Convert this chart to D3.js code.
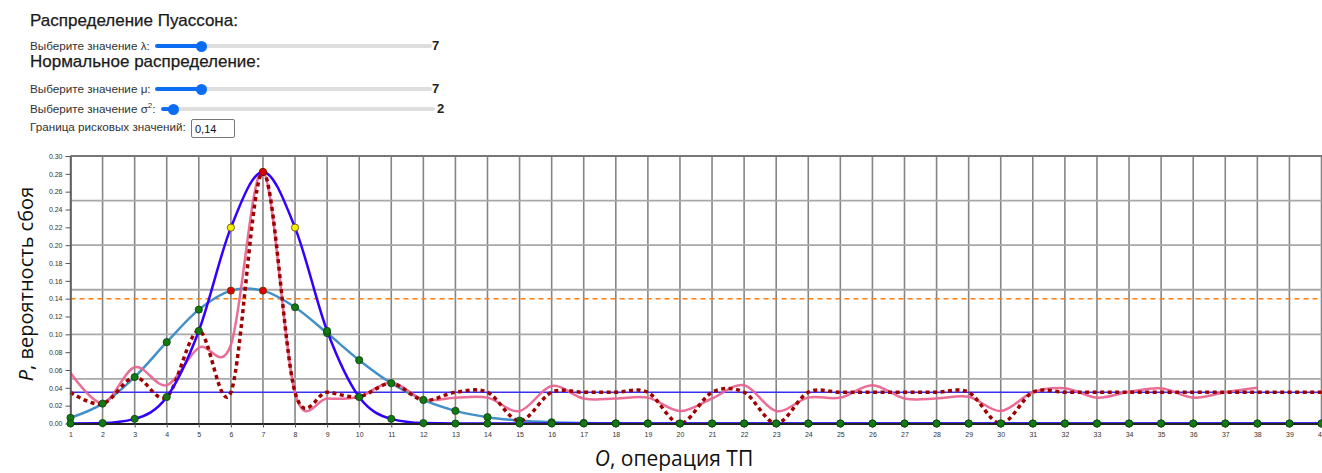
<!DOCTYPE html>
<html><head><meta charset="utf-8">
<script src="https://cdn.jsdelivr.net/npm/d3@7"></script>
<style>
body{margin:0;width:1322px;height:473px;overflow:hidden;background:#fff;font-family:"Liberation Sans",Arial,sans-serif;color:#222;position:relative}
svg{position:absolute;left:0;top:0}
.h{position:absolute;left:30px;font-size:17px;line-height:20px;white-space:nowrap;color:#1a1a1a;-webkit-text-stroke:0.25px #1a1a1a}
.lbl{position:absolute;left:30px;font-size:11.7px;line-height:13px;white-space:nowrap;color:#333}
.val{position:absolute;font-size:13px;font-weight:bold;line-height:14px;color:#222}
input[type=range]{-webkit-appearance:none;appearance:none;position:absolute;margin:0;padding:0;height:11px;background:transparent}
input[type=range]::-webkit-slider-runnable-track{height:4px;border-radius:2px;background:linear-gradient(to right,#0b6cf4 var(--p),#dedede var(--p))}
input[type=range]::-webkit-slider-thumb{-webkit-appearance:none;width:11px;height:11px;border-radius:50%;background:#0b6cf4;margin-top:-3.5px;border:none}
input.txt{position:absolute;box-sizing:border-box;border:1px solid #777;border-radius:2px;font-family:"Liberation Sans",Arial,sans-serif;font-size:11px;padding:0 0 0 3px;margin:0;color:#111}
</style></head>
<body>
<script>
// ---- data ----
const ops = [1,2,3,4,5,6,7,8,9,10,11,12,13,14,15,16,17,18,19,20,21,22,23,24,25,26,27,28,29,30,31,32,33,34,35,36,37,38,39,40];
const poisson = [0.0064,0.0223,0.0521,0.0912,0.1277,0.1490,0.1490,0.1304,0.1014,0.0710,0.0452,0.0264,0.0142,0.0071,0.0033,0.0014,0.0006,0.0002,0.0001,0,0,0,0,0,0,0,0,0,0,0,0,0,0,0,0,0,0,0,0,0];
const normal = [0.0000,0.0005,0.0052,0.0297,0.1038,0.2197,0.2821,0.2197,0.1038,0.0297,0.0052,0.0005,0,0,0,0,0,0,0,0,0,0,0,0,0,0,0,0,0,0,0,0,0,0,0,0,0,0,0,0];
const combined = [0.035,0.022,0.052,0.030,0.104,0.035,0.282,0.035,0.035,0.030,0.045,0.026,0.035,0.035,0.003,0.035,0.035,0.035,0.035,0.000,0.035,0.035,0.000,0.035,0.035,0.035,0.035,0.035,0.035,0.000,0.035,0.035,0.035,0.035,0.035,0.035,0.035,0.035,0.035,0.035];
const smoothed = [0.057,0.023,0.063,0.043,0.085,0.088,0.283,0.034,0.028,0.030,0.046,0.027,0.029,0.029,0.014,0.042,0.028,0.028,0.029,0.014,0.028,0.043,0.014,0.029,0.029,0.043,0.028,0.028,0.030,0.014,0.035,0.0395,0.029,0.0355,0.0395,0.029,0.035,0.040];
const threshold = 0.14;
const baseLevel = 0.035;
const yTicks = [0,0.02,0.04,0.06,0.08,0.10,0.12,0.14,0.16,0.18,0.20,0.22,0.24,0.26,0.28,0.30];
const yGrid = [0.05,0.10,0.15,0.20,0.25,0.30];
const lambdaVal = 7, muVal = 7, sigma2Val = 2, thresholdText = "0,14";

// ---- chart ----
const W = 1322, H = 473;
const svg = d3.select("body").append("svg").attr("width", W).attr("height", H);
const x = d3.scaleLinear().domain([1, 40]).range([70.5, 1321.5]);
const y = d3.scaleLinear().domain([0, 0.30]).range([423.5, 156]);

const g = svg.append("g");
// grid
g.selectAll(".vg").data(ops).join("line")
  .attr("x1", d => x(d)).attr("x2", d => x(d)).attr("y1", y(0.30)).attr("y2", y(0))
  .attr("stroke", "#858585").attr("stroke-width", 1.6);
g.selectAll(".hg").data(yGrid).join("line")
  .attr("x1", x(1)).attr("x2", W).attr("y1", d => y(d)).attr("y2", d => y(d))
  .attr("stroke", d => d === 0.30 ? "#777" : "#a8a8a8").attr("stroke-width", 1.8);

// threshold
g.append("line").attr("x1", x(1)).attr("x2", W).attr("y1", y(threshold)).attr("y2", y(threshold))
  .attr("stroke", "#ff7f0e").attr("stroke-width", 1.5).attr("stroke-dasharray", "5,4");
// base level
g.append("line").attr("x1", x(1)).attr("x2", W).attr("y1", y(baseLevel)).attr("y2", y(baseLevel))
  .attr("stroke", "#3b2ff0").attr("stroke-width", 1.5);

const lineCR = (vals) => d3.line().x((d, i) => x(ops[i])).y(d => y(d)).curve(d3.curveCatmullRom.alpha(0))(vals);
const lineMono = (vals) => d3.line().x((d, i) => x(ops[i])).y(d => y(d)).curve(d3.curveMonotoneX)(vals);

g.append("path").attr("d", lineCR(poisson)).attr("fill", "none").attr("stroke", "#4390c8").attr("stroke-width", 2.5);
g.append("path").attr("d", lineCR(smoothed)).attr("fill", "none").attr("stroke", "#e8628e").attr("stroke-width", 2.5).attr("stroke-opacity", 0.92);
g.append("path").attr("d", lineCR(combined)).attr("fill", "none").attr("stroke", "#9e0000").attr("stroke-width", 3.5).attr("stroke-dasharray", "4,3.5");
g.append("path").attr("d", lineMono(normal)).attr("fill", "none").attr("stroke", "#3300ff").attr("stroke-width", 2.5);

// axes
const yAxis = g.append("g").attr("transform", `translate(${x(1)},0)`)
  .call(d3.axisLeft(y).tickValues(yTicks).tickFormat(d3.format(".2f")).tickSize(5).tickSizeOuter(0));
yAxis.select(".domain").attr("stroke", "#555").attr("stroke-width", 1.5);
yAxis.selectAll(".tick line").attr("stroke", "#555");
yAxis.selectAll("text").attr("font-size", 7).attr("fill", "#333").attr("font-family", "Liberation Sans, Arial, sans-serif");

const xAxis = g.append("g").attr("transform", `translate(0,${y(0)})`)
  .call(d3.axisBottom(x).tickValues(ops).tickFormat(d3.format("d")).tickSize(4).tickSizeOuter(0));
xAxis.select(".domain").attr("stroke", "#222").attr("stroke-width", 2);
xAxis.selectAll(".tick line").attr("stroke", "#555");
xAxis.selectAll("text").attr("font-size", 7).attr("fill", "#333").attr("dy", "0.9em").attr("font-family", "Liberation Sans, Arial, sans-serif");

// dots
const dot = (vals, hiColor) => {
  g.append("g").selectAll("circle").data(vals).join("circle")
    .attr("cx", (d, i) => x(ops[i])).attr("cy", d => y(d)).attr("r", 3.6)
    .attr("fill", d => d > threshold ? hiColor : "#127a12")
    .attr("stroke", d => d > threshold ? "#6a3a00" : "#0b3d0b").attr("stroke-width", 0.8);
};
dot(poisson, "#dd0000");
dot(normal, "#f2f200");
g.append("g").selectAll("circle").data(combined.map((v, i) => [ops[i], v]).filter(d => d[1] > threshold)).join("circle")
  .attr("cx", d => x(d[0])).attr("cy", d => y(d[1])).attr("r", 3.6)
  .attr("fill", "#dd0000").attr("stroke", "#6a0000").attr("stroke-width", 0.8);

// axis labels
const xl = svg.append("text").attr("x", 674).attr("y", 466).attr("text-anchor", "middle")
  .attr("font-family", "Open Sans, sans-serif").attr("font-size", 21).attr("fill", "#111");
xl.append("tspan").attr("font-style", "italic").text("O");
xl.append("tspan").text(", операция ТП");
const yl = svg.append("text").attr("transform", "translate(33,284) rotate(-90)").attr("text-anchor", "middle")
  .attr("font-family", "Open Sans, sans-serif").attr("font-size", 20).attr("fill", "#111");
yl.append("tspan").attr("font-style", "italic").text("P");
yl.append("tspan").text(", вероятность сбоя");

// ---- controls ----
const body = d3.select("body");
body.append("div").attr("class", "h").style("top", "11.1px").text("Распределение Пуассона:");
body.append("div").attr("class", "h").style("top", "52.1px").text("Нормальное распределение:");
body.append("div").attr("class", "lbl").style("top", "39.4px").text("Выберите значение λ:");
body.append("div").attr("class", "lbl").style("top", "82.4px").text("Выберите значение μ:");
body.append("div").attr("class", "lbl").style("top", "102.4px").html("Выберите значение σ<sup style='font-size:8px;line-height:0'>2</sup>:");
body.append("div").attr("class", "lbl").style("top", "120.4px").text("Граница рисковых значений:");

function slider(left, top, width, value) {
  const frac = (value - 1) / 39;
  const pct = (5.5 + frac * (width - 11)) / width * 100;
  body.append("input").attr("type", "range").attr("min", 1).attr("max", 40).attr("step", 1)
    .property("value", value)
    .style("left", left + "px").style("top", top + "px").style("width", width + "px")
    .style("--p", pct + "%");
}
slider(155, 40.5, 277, lambdaVal);
slider(155, 83.5, 277, muVal);
slider(161, 103.5, 274, sigma2Val);
body.append("div").attr("class", "val").style("left", "432px").style("top", "39px").text(lambdaVal);
body.append("div").attr("class", "val").style("left", "432px").style("top", "82px").text(muVal);
body.append("div").attr("class", "val").style("left", "437px").style("top", "102px").text(sigma2Val);
body.append("input").attr("class", "txt").attr("type", "text").property("value", thresholdText)
  .style("left", "191px").style("top", "119px").style("width", "44px").style("height", "19px");
</script>
</body></html>
